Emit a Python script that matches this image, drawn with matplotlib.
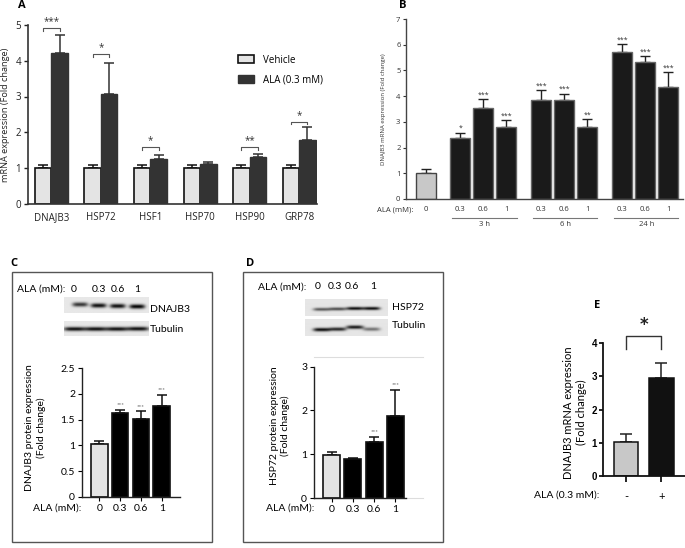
import numpy as np
import matplotlib
matplotlib.use('Agg')
import matplotlib.pyplot as plt
from matplotlib.patches import Rectangle, Patch
import matplotlib.transforms as mtrans

# ---------------- data ----------------
genes = ['DNAJB3', 'HSP72', 'HSF1', 'HSP70', 'HSP90', 'GRP78']
vehicle = [1.0, 1.0, 1.0, 1.0, 1.0, 1.0]
vehicle_err = [0.07, 0.07, 0.07, 0.07, 0.07, 0.07]
ala = [4.21, 3.06, 1.25, 1.11, 1.30, 1.78]
ala_err = [0.52, 0.88, 0.11, 0.07, 0.10, 0.37]
a_sig = ['***', '*', '*', '', '**', '*']
a_bracket = [4.91, 4.18, 1.58, 0, 1.58, 2.30]

b_doses = ['0', '0.3', '0.6', '1', '0.3', '0.6', '1', '0.3', '0.6', '1']
b_groups = ['3 h', '6 h', '24 h']
b_vals = [1.0, 2.36, 3.55, 2.80, 3.86, 3.85, 2.81, 5.71, 5.34, 4.35]
b_err = [0.15, 0.22, 0.33, 0.26, 0.37, 0.25, 0.29, 0.31, 0.22, 0.59]
b_sig = ['', '*', '***', '***', '***', '***', '**', '***', '***', '***']

cd_doses = ['0', '0.3', '0.6', '1']
c_vals = [1.02, 1.62, 1.51, 1.77]
c_err = [0.06, 0.07, 0.15, 0.21]
c_sig = ['', '***', '***', '***']
c_blot_dnajb3 = [0.70, 0.85, 0.85, 0.90]
c_blot_tub = [0.85, 0.85, 0.85, 0.85]

d_vals = [0.99, 0.89, 1.29, 1.88]
d_err = [0.06, 0.02, 0.11, 0.59]
d_sig = ['', '', '***', '***']
d_blot_hsp72 = [0.55, 0.60, 0.85, 0.85]
d_blot_tub = [0.85, 0.75, 0.80, 0.45]

e_labels = ['-', '+']
e_vals = [1.03, 2.95]
e_err = [0.24, 0.46]
e_sig = '*'

# ---------------- helpers ----------------
W, H = 685, 548
fig = plt.figure(figsize=(6.85, 5.48), dpi=100)

def fx(x):
    return x / W

def fy(y):
    return 1 - y / H

def add_ax(x0, y0, x1, y1):
    return fig.add_axes([x0 / W, 1 - y1 / H, (x1 - x0) / W, (y1 - y0) / H])

def ftext(x, y, s, **kw):
    fig.text(fx(x), fy(y), s, **kw)

FA = 'Open Sans'
FC = 'Lato'

def blot(x0, y0, x1, y1, centers, intens, halfw, ycs, sig, bg):
    ax = add_ax(x0, y0, x1, y1)
    w, h = x1 - x0, y1 - y0
    xs = np.linspace(0, w, int(w * 4))
    ys = np.linspace(0, h, int(h * 4))
    X, Y = np.meshgrid(xs, ys)
    img = np.full_like(X, bg)
    for c, a, yc in zip(centers, intens, ycs):
        img -= a * np.exp(-np.abs((X - c) / halfw) ** 4) * np.exp(-((Y - yc) / sig) ** 2)
    ax.imshow(np.clip(img, 0, 1), cmap='gray', vmin=0, vmax=1, aspect='auto',
              extent=(0, w, h, 0), interpolation='bilinear')
    ax.axis('off')
    return ax

# ---------------- Panel A ----------------
axA = add_ax(28, 25, 317, 203.75)
xA = np.arange(len(genes))
bw = 0.333
axA.errorbar(xA - bw / 2, vehicle, yerr=[np.zeros(6), vehicle_err], fmt='none',
             ecolor='#111', elinewidth=1.1, capsize=3.6, capthick=1.1, zorder=1)
axA.errorbar(xA + bw / 2, ala, yerr=[np.zeros(6), ala_err], fmt='none',
             ecolor='#333', elinewidth=1.1, capsize=3.6, capthick=1.1, zorder=1)
axA.bar(xA - bw / 2, vehicle, bw, color='#e4e4e4', edgecolor='#111', linewidth=1.2,
        zorder=2, label='Vehicle')
axA.bar(xA + bw / 2, ala, bw, color='#333333', edgecolor='#333333', linewidth=1.0,
        zorder=2, label='ALA (0.3 mM)')
for i, (s, by) in enumerate(zip(a_sig, a_bracket)):
    if not s:
        continue
    xl, xr = i - bw / 2, i + bw / 2
    axA.plot([xl, xl, xr, xr], [by - 0.07, by, by, by - 0.07], color='#555',
             lw=0.8, clip_on=False)
    axA.text(i, by + 0.02, s, ha='center', va='bottom', fontsize=7,
             family=FA, color='#333')
axA.set_xlim(-0.47, 5.36)
axA.set_ylim(0, 5)
axA.set_yticks(range(6))
axA.set_xticks(xA)
axA.set_xticklabels(genes, family=FA, fontsize=7, color='#222')
axA.tick_params(axis='x', length=0, pad=6)
axA.tick_params(axis='y', length=3, width=1, pad=2, labelsize=7, colors='#222')
for t in axA.get_yticklabels():
    t.set_family(FA)
for sp in ['top', 'right']:
    axA.spines[sp].set_visible(False)
for sp in ['left', 'bottom']:
    axA.spines[sp].set_color('#333')
    axA.spines[sp].set_linewidth(1.2)
axA.set_ylabel('mRNA expression (Fold change)', family=FA, fontsize=6.6, color='#222')
axA.yaxis.set_label_coords(-0.062, 0.5)
leg = axA.legend(loc='upper left', bbox_to_anchor=(fx(229), fy(46)),
                 bbox_transform=fig.transFigure, frameon=False,
                 handlelength=1.7, handleheight=0.9, labelspacing=0.85,
                 handletextpad=0.9, prop={'family': FA, 'size': 7})
ftext(22, 6, 'A', fontsize=8, weight='bold', family=FA, ha='center', va='center')

# ---------------- Panel B ----------------
axB = add_ax(406, 19, 683, 199)
posB = [0.0]
for g0 in [1.5, 5.02, 8.54]:
    posB += [g0, g0 + 1, g0 + 2]
posB = np.array(posB)
colsB = ['#c8c8c8'] + ['#1a1a1a'] * 9
edgB = ['#444'] + ['#666'] * 9
axB.errorbar(posB, b_vals, yerr=[np.zeros(10), b_err], fmt='none', ecolor='#222',
             elinewidth=1.0, capsize=3.5, capthick=1.0, zorder=1)
axB.bar(posB, b_vals, 0.89, color=colsB, edgecolor=edgB, linewidth=1.0, zorder=2)
for p, v, e, s in zip(posB, b_vals, b_err, b_sig):
    if s:
        axB.annotate(s, (p, v + e), xytext=(0, 0.5), textcoords='offset points',
                     ha='center', va='bottom', fontsize=5, family=FA, color='#333')
axB.set_xlim(-0.86, 11.19)
axB.set_ylim(0, 7)
axB.set_yticks(range(8))
axB.set_xticks([])
axB.tick_params(axis='y', length=2.5, width=0.8, pad=1.5, labelsize=5.5, colors='#333')
for t in axB.get_yticklabels():
    t.set_family(FA)
for sp in ['top', 'right']:
    axB.spines[sp].set_visible(False)
for sp in ['left', 'bottom']:
    axB.spines[sp].set_color('#444')
    axB.spines[sp].set_linewidth(1.0)
axB.set_ylabel('DNAJB3 mRNA expression (Fold change)', family=FA, fontsize=4.3,
               color='#333')
axB.yaxis.set_label_coords(-0.072, 0.5)
trB = mtrans.blended_transform_factory(axB.transData, fig.transFigure)
for p, d in zip(posB, b_doses):
    axB.text(p, fy(210), d, transform=trB, ha='center', va='center', fontsize=5.5,
             family=FA, color='#333')
ftext(395.5, 210, 'ALA (mM):', ha='center', va='center', fontsize=5.5, family=FA,
      color='#333')
for k, g in enumerate(b_groups):
    p0, p1 = posB[1 + 3 * k], posB[3 + 3 * k]
    axB.plot([p0 - 0.35, p1 + 0.45], [fy(218), fy(218)], transform=trB, color='#777',
             lw=0.8, clip_on=False)
    axB.text((p0 + p1) / 2 + 0.05, fy(224.5), g, transform=trB, ha='center',
             va='center', fontsize=5.5, family=FA, color='#333')
ftext(403, 5, 'B', fontsize=8, weight='bold', family=FA, ha='center', va='center')

# ---------------- Boxes C/D ----------------
for (x0, y0, x1, y1) in [(12.5, 271.7, 212.5, 542), (242.5, 271.7, 443.3, 542)]:
    fig.add_artist(Rectangle((fx(x0), fy(y1)), (x1 - x0) / W, (y1 - y0) / H,
                             transform=fig.transFigure, fill=False,
                             edgecolor='#555', linewidth=1.0))
ftext(14, 263, 'C', fontsize=8, weight='bold', family=FA, ha='center', va='center')
ftext(250, 263, 'D', fontsize=8, weight='bold', family=FA, ha='center', va='center')

# ---- C top labels & blots ----
ftext(41.3, 289.3, 'ALA (mM):', ha='center', va='center', fontsize=7.5, family=FC)
for x, d in zip([74, 98.7, 118.3, 136.7], cd_doses):
    ftext(x, 289.3, d, ha='center', va='center', fontsize=7.5, family=FC)
blot(64, 296.7, 148.3, 313.3, [16, 34.3, 53.3, 72.7], c_blot_dnajb3, 7.8,
     [8.3, 9.3, 9.8, 10.3], 2.2, 0.91)
blot(64, 320.7, 148.3, 336, [10.5, 31.5, 52.5, 73.5], c_blot_tub, 10.8,
     [8.6, 8.6, 8.6, 8.4], 2.0, 0.91)
ftext(150, 310, 'DNAJB3', ha='left', va='center', fontsize=7.5, family=FC)
ftext(150, 329, 'Tubulin', ha='left', va='center', fontsize=7.5, family=FC)

# ---- C chart ----
def small_chart(ax, vals, errs, sigs, ylim_top, yticks, yticklabels, xlim):
    pos = np.arange(len(vals))
    ax.errorbar(pos, vals, yerr=[np.zeros(len(vals)), errs], fmt='none', ecolor='#111',
                elinewidth=1.1, capsize=3.3, capthick=1.1, zorder=1)
    ax.bar(pos, vals, 0.8, color=['#e3e3e3'] + ['#000000'] * (len(vals) - 1),
           edgecolor='#111', linewidth=1.2, zorder=2)
    for p, v, e, s in zip(pos, vals, errs, sigs):
        if s:
            ax.annotate(s, (p, v + e), xytext=(0, 2), textcoords='offset points',
                        ha='center', va='bottom', fontsize=4.5, family=FC,
                        color='#555')
    ax.set_xlim(*xlim)
    ax.set_ylim(0, ylim_top)
    ax.set_yticks(yticks)
    ax.set_yticklabels(yticklabels, family=FC, fontsize=7.5)
    ax.set_xticks(pos)
    ax.set_xticklabels(cd_doses, family=FC, fontsize=7.5)
    ax.tick_params(axis='x', length=3, width=0.8, pad=2)
    ax.tick_params(axis='y', length=3, width=0.8, pad=2)
    for sp in ['top', 'right']:
        ax.spines[sp].set_visible(False)
    for sp in ['left', 'bottom']:
        ax.spines[sp].set_color('#222')
        ax.spines[sp].set_linewidth(1.0)

axC = add_ax(82, 368.3, 180, 496.7)
small_chart(axC, c_vals, c_err, c_sig, 2.5, [0, 0.5, 1, 1.5, 2, 2.5],
            ['0', '0.5', '1', '1.5', '2', '2.5'], (-0.83, 3.88))
ftext(57, 508.3, 'ALA (mM):', ha='center', va='center', fontsize=7.5, family=FC)
ftext(35.5, 427.5, 'DNAJB3 protein expression\n(Fold change)', ha='center',
      va='center', rotation=90, fontsize=7.5, family=FC, linespacing=1.3,
      multialignment='center')

# ---- D top labels & blots ----
ftext(281.7, 286.7, 'ALA (mM):', ha='center', va='center', fontsize=7.5, family=FC)
for x, d in zip([317.3, 335, 351.7, 372.7], cd_doses):
    ftext(x, 286.7, d, ha='center', va='center', fontsize=7.5, family=FC)
blot(305, 299.3, 388, 316, [16.7, 32.7, 50, 66.7], d_blot_hsp72, 8.6,
     [10.2, 9.8, 9.3, 9.3], 1.6, 0.9)
blot(305, 319.3, 388, 336, [16.7, 32.7, 50, 66.7], d_blot_tub, 8.6,
     [10.5, 10.0, 8.0, 10.0], 1.8, 0.9)
ftext(391.7, 307, 'HSP72', ha='left', va='center', fontsize=7.5, family=FC)
ftext(391.7, 325, 'Tubulin', ha='left', va='center', fontsize=7.5, family=FC)

# ---- D chart ----
axD = add_ax(314, 357.3, 423, 498.3)
small_chart(axD, d_vals, d_err, d_sig, 3.21, [0, 1, 2, 3], ['0', '1', '2', '3'],
            (-0.83, 4.3))
axD.spines['left'].set_bounds(0, 3)
axD.spines['bottom'].set_bounds(-0.83, 3.5)
axD.spines['top'].set_visible(True)
axD.spines['top'].set_color('#dddddd')
axD.spines['top'].set_linewidth(0.8)
axD.plot([3.5, 4.3], [0, 0], color='#dddddd', lw=0.8, clip_on=False, zorder=0)
ftext(290, 508.3, 'ALA (mM):', ha='center', va='center', fontsize=7.5, family=FC)
ftext(280, 426, 'HSP72 protein expression\n(Fold change)', ha='center',
      va='center', rotation=90, fontsize=7.5, family=FC, linespacing=1.3,
      multialignment='center')

# ---------------- Panel E ----------------
axE = add_ax(603.3, 343.3, 685, 476)
posE = np.arange(2)
axE.errorbar(posE, e_vals, yerr=[np.zeros(2), e_err], fmt='none', ecolor='#222',
             elinewidth=1.1, capsize=4.5, capthick=1.1, zorder=1)
axE.bar(posE, e_vals, 0.7, color=['#c8c8c8', '#111111'], edgecolor='#111',
        linewidth=1.1, zorder=2)
axE.plot([0, 0, 1, 1], [3.82, 4.22, 4.22, 3.82], color='#333', lw=1.0, clip_on=False)
axE.text(0.5, 4.55, e_sig, ha='center', va='center', fontsize=12, weight='bold',
         family='DejaVu Sans', color='#222', clip_on=False)
axE.set_xlim(-0.64, 1.67)
axE.set_ylim(0, 4)
axE.set_yticks(range(5))
axE.set_yticklabels([str(v) for v in range(5)], family='Liberation Sans',
                    weight='bold', fontsize=7)
axE.set_xticks(posE)
axE.set_xticklabels(e_labels, family=FC, fontsize=8)
axE.tick_params(axis='x', length=4, width=1.2, pad=7)
axE.tick_params(axis='y', length=3, width=1.2, pad=1.5)
for sp in ['top', 'right']:
    axE.spines[sp].set_visible(False)
for sp in ['left', 'bottom']:
    axE.spines[sp].set_color('#111')
    axE.spines[sp].set_linewidth(1.3)
ftext(566.7, 495, 'ALA (0.3 mM):', ha='center', va='center', fontsize=7.5, family=FC)
ftext(575, 412.5, 'DNAJB3 mRNA expression\n(Fold change)', ha='center',
      va='center', rotation=90, fontsize=8, family=FC, linespacing=1.25,
      multialignment='center')
ftext(597, 305, 'E', fontsize=8, weight='bold', family=FA, ha='center', va='center')

fig.savefig('out.png', dpi=100)
